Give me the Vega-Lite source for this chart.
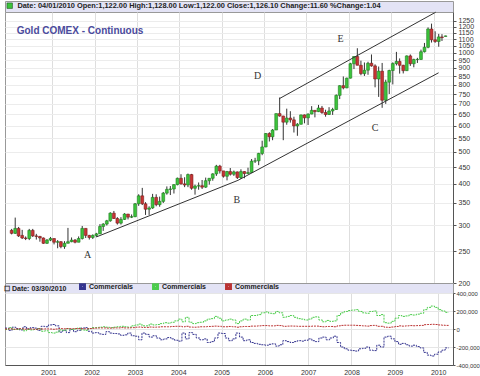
{
"$schema": "https://vega.github.io/schema/vega-lite/v6.json",
"padding": {"left": 2, "top": 0, "right": 0, "bottom": 0},
"background": "white",
"spacing": 0,
"bounds": "flush",
"config": {"font": "Liberation Sans", "view": {"stroke": "#999"}},
"resolve": {"scale": {"color": "independent", "y": "independent"}, "legend": {"color": "independent"}},
"datasets": {
"candles": [
{"d":"2000-01-15","o":289,"h":292,"l":281,"c":283},{"d":"2000-02-15","o":283,"h":316,"l":282,"c":293},{"d":"2000-03-15","o":293,"h":296,"l":276,"c":278},{"d":"2000-04-15","o":279,"h":290,"l":272,"c":274},{"d":"2000-05-15","o":274,"h":277,"l":270,"c":273},{"d":"2000-06-15","o":273,"h":292,"l":270,"c":289},{"d":"2000-07-15","o":289,"h":292,"l":276,"c":278},{"d":"2000-08-15","o":278,"h":282,"l":271,"c":277},{"d":"2000-09-15","o":277,"h":278,"l":267,"c":274},{"d":"2000-10-15","o":274,"h":275,"l":263,"c":264},{"d":"2000-11-15","o":264,"h":272,"l":263,"c":270},{"d":"2000-12-15","o":270,"h":276,"l":268,"c":273},
{"d":"2001-01-15","o":273,"h":273,"l":262,"c":266},{"d":"2001-02-15","o":266,"h":270,"l":255,"c":267},{"d":"2001-03-15","o":267,"h":268,"l":255,"c":258},{"d":"2001-04-15","o":258,"h":268,"l":254,"c":264},{"d":"2001-05-15","o":264,"h":294,"l":264,"c":267},{"d":"2001-06-15","o":267,"h":275,"l":266,"c":270},{"d":"2001-07-15","o":270,"h":272,"l":264,"c":266},{"d":"2001-08-15","o":266,"h":277,"l":266,"c":273},{"d":"2001-09-15","o":273,"h":298,"l":271,"c":293},{"d":"2001-10-15","o":293,"h":293,"l":274,"c":279},{"d":"2001-11-15","o":279,"h":280,"l":271,"c":275},{"d":"2001-12-15","o":275,"h":281,"l":272,"c":279},
{"d":"2002-01-15","o":279,"h":284,"l":276,"c":282},{"d":"2002-02-15","o":282,"h":302,"l":282,"c":297},{"d":"2002-03-15","o":297,"h":304,"l":288,"c":302},{"d":"2002-04-15","o":302,"h":311,"l":299,"c":309},{"d":"2002-05-15","o":309,"h":328,"l":307,"c":326},{"d":"2002-06-15","o":326,"h":331,"l":313,"c":314},{"d":"2002-07-15","o":314,"h":317,"l":301,"c":304},{"d":"2002-08-15","o":304,"h":317,"l":301,"c":312},{"d":"2002-09-15","o":312,"h":326,"l":311,"c":324},{"d":"2002-10-15","o":324,"h":324,"l":312,"c":317},{"d":"2002-11-15","o":317,"h":323,"l":315,"c":318},{"d":"2002-12-15","o":318,"h":350,"l":317,"c":348},
{"d":"2003-01-15","o":348,"h":372,"l":343,"c":368},{"d":"2003-02-15","o":368,"h":389,"l":345,"c":348},{"d":"2003-03-15","o":348,"h":352,"l":322,"c":335},{"d":"2003-04-15","o":335,"h":342,"l":322,"c":338},{"d":"2003-05-15","o":338,"h":373,"l":336,"c":364},{"d":"2003-06-15","o":364,"h":372,"l":342,"c":346},{"d":"2003-07-15","o":346,"h":366,"l":341,"c":354},{"d":"2003-08-15","o":354,"h":378,"l":350,"c":375},{"d":"2003-09-15","o":375,"h":393,"l":371,"c":385},{"d":"2003-10-15","o":385,"h":394,"l":370,"c":386},{"d":"2003-11-15","o":386,"h":399,"l":374,"c":398},{"d":"2003-12-15","o":398,"h":418,"l":396,"c":416},
{"d":"2004-01-15","o":416,"h":428,"l":398,"c":400},{"d":"2004-02-15","o":400,"h":419,"l":391,"c":397},{"d":"2004-03-15","o":397,"h":430,"l":391,"c":427},{"d":"2004-04-15","o":427,"h":429,"l":384,"c":388},{"d":"2004-05-15","o":388,"h":398,"l":371,"c":394},{"d":"2004-06-15","o":394,"h":404,"l":384,"c":395},{"d":"2004-07-15","o":395,"h":411,"l":386,"c":391},{"d":"2004-08-15","o":391,"h":418,"l":389,"c":409},{"d":"2004-09-15","o":409,"h":416,"l":398,"c":416},{"d":"2004-10-15","o":416,"h":431,"l":409,"c":429},{"d":"2004-11-15","o":429,"h":457,"l":423,"c":453},{"d":"2004-12-15","o":453,"h":457,"l":430,"c":438},
{"d":"2005-01-15","o":438,"h":438,"l":418,"c":422},{"d":"2005-02-15","o":422,"h":438,"l":410,"c":436},{"d":"2005-03-15","o":436,"h":447,"l":424,"c":428},{"d":"2005-04-15","o":428,"h":439,"l":423,"c":435},{"d":"2005-05-15","o":435,"h":436,"l":414,"c":418},{"d":"2005-06-15","o":418,"h":443,"l":414,"c":436},{"d":"2005-07-15","o":436,"h":437,"l":416,"c":430},{"d":"2005-08-15","o":430,"h":448,"l":429,"c":433},{"d":"2005-09-15","o":433,"h":476,"l":432,"c":469},{"d":"2005-10-15","o":469,"h":480,"l":463,"c":470},{"d":"2005-11-15","o":470,"h":497,"l":456,"c":495},{"d":"2005-12-15","o":495,"h":541,"l":489,"c":518},
{"d":"2006-01-15","o":518,"h":571,"l":517,"c":569},{"d":"2006-02-15","o":569,"h":574,"l":538,"c":556},{"d":"2006-03-15","o":556,"h":587,"l":543,"c":583},{"d":"2006-04-15","o":583,"h":654,"l":583,"c":654},{"d":"2006-05-15","o":654,"h":732,"l":640,"c":643},{"d":"2006-06-15","o":643,"h":644,"l":543,"c":616},{"d":"2006-07-15","o":616,"h":677,"l":605,"c":634},{"d":"2006-08-15","o":634,"h":665,"l":614,"c":626},{"d":"2006-09-15","o":626,"h":640,"l":573,"c":600},{"d":"2006-10-15","o":600,"h":612,"l":560,"c":607},{"d":"2006-11-15","o":607,"h":649,"l":606,"c":648},{"d":"2006-12-15","o":648,"h":650,"l":611,"c":635},
{"d":"2007-01-15","o":635,"h":655,"l":604,"c":652},{"d":"2007-02-15","o":652,"h":689,"l":651,"c":669},{"d":"2007-03-15","o":669,"h":670,"l":637,"c":663},{"d":"2007-04-15","o":663,"h":695,"l":661,"c":680},{"d":"2007-05-15","o":680,"h":690,"l":653,"c":659},{"d":"2007-06-15","o":659,"h":672,"l":640,"c":650},{"d":"2007-07-15","o":650,"h":684,"l":648,"c":666},{"d":"2007-08-15","o":666,"h":681,"l":648,"c":673},{"d":"2007-09-15","o":673,"h":748,"l":672,"c":743},{"d":"2007-10-15","o":743,"h":797,"l":724,"c":795},{"d":"2007-11-15","o":795,"h":848,"l":775,"c":783},{"d":"2007-12-15","o":783,"h":841,"l":781,"c":838},
{"d":"2008-01-15","o":838,"h":933,"l":836,"c":927},{"d":"2008-02-15","o":927,"h":975,"l":893,"c":975},{"d":"2008-03-15","o":975,"h":1033,"l":917,"c":917},{"d":"2008-04-15","o":917,"h":947,"l":855,"c":865},{"d":"2008-05-15","o":865,"h":935,"l":851,"c":886},{"d":"2008-06-15","o":886,"h":940,"l":858,"c":930},{"d":"2008-07-15","o":930,"h":989,"l":908,"c":913},{"d":"2008-08-15","o":913,"h":923,"l":786,"c":833},{"d":"2008-09-15","o":833,"h":909,"l":735,"c":880},{"d":"2008-10-15","o":880,"h":932,"l":681,"c":718},{"d":"2008-11-15","o":718,"h":829,"l":700,"c":815},{"d":"2008-12-15","o":815,"h":889,"l":750,"c":884},
{"d":"2009-01-15","o":884,"h":936,"l":802,"c":928},{"d":"2009-02-15","o":928,"h":1007,"l":916,"c":942},{"d":"2009-03-15","o":942,"h":962,"l":865,"c":917},{"d":"2009-04-15","o":917,"h":920,"l":866,"c":883},{"d":"2009-05-15","o":883,"h":982,"l":882,"c":979},{"d":"2009-06-15","o":979,"h":989,"l":913,"c":927},{"d":"2009-07-15","o":927,"h":960,"l":904,"c":955},{"d":"2009-08-15","o":955,"h":966,"l":932,"c":955},{"d":"2009-09-15","o":955,"h":1023,"l":953,"c":1008},{"d":"2009-10-15","o":1008,"h":1072,"l":1003,"c":1040},{"d":"2009-11-15","o":1040,"h":1195,"l":1033,"c":1182},{"d":"2009-12-15","o":1182,"h":1227,"l":1075,"c":1096},
{"d":"2010-01-15","o":1096,"h":1163,"l":1073,"c":1083},{"d":"2010-02-15","o":1083,"h":1142,"l":1044,"c":1118},{"d":"2010-03-15","o":1118,"h":1140,"l":1087,"c":1113},{"d":"2010-04-15","o":1122,"h":1128,"l":1122,"c":1126}
],
"trend": [
{"seg":"a","d":"2002-01-15","p":276},{"seg":"a","d":"2005-05-20","p":410},
{"seg":"b","d":"2005-05-20","p":410},{"seg":"b","d":"2010-02-14","p":870},
{"seg":"c","d":"2006-05-12","p":726},{"seg":"c","d":"2010-01-20","p":1329}
],
"marks": [
{"d":"2001-11-01","p":243,"t":"A"},{"d":"2005-05-10","p":357,"t":"B"},{"d":"2008-08-15","p":593,"t":"C"},{"d":"2005-11-05","p":852,"t":"D"},{"d":"2007-10-23","p":1102,"t":"E"}
],
"title": [{"d":"2000-02-28","p":1166,"t":"Gold COMEX - Continuous"}],
"cot": [
{"d":"2000-01-01","b":10000,"g":-5000,"r":0},{"d":"2000-02-01","b":-15000,"g":15000,"r":2000},{"d":"2000-03-01","b":20000,"g":-5000,"r":-2000},{"d":"2000-04-01","b":5000,"g":-5000,"r":0},{"d":"2000-05-01","b":-10000,"g":0,"r":3000},{"d":"2000-06-01","b":25000,"g":-20000,"r":-2000},{"d":"2000-07-01","b":0,"g":-5000,"r":1000},{"d":"2000-08-01","b":15000,"g":-10000,"r":0},{"d":"2000-09-01","b":10000,"g":-5000,"r":-3000},{"d":"2000-10-01","b":-15000,"g":5000,"r":2000},{"d":"2000-11-01","b":30000,"g":-25000,"r":0},{"d":"2000-12-01","b":25000,"g":-20000,"r":1000},
{"d":"2001-01-01","b":45000,"g":-40000,"r":0},{"d":"2001-02-01","b":50000,"g":-45000,"r":-3000},{"d":"2001-03-01","b":35000,"g":-35000,"r":0},{"d":"2001-04-01","b":-35000,"g":-10000,"r":5000},{"d":"2001-05-01","b":-15000,"g":-15000,"r":2000},{"d":"2001-06-01","b":-40000,"g":5000,"r":5000},{"d":"2001-07-01","b":-5000,"g":-5000,"r":3000},{"d":"2001-08-01","b":-30000,"g":0,"r":5000},{"d":"2001-09-01","b":-15000,"g":10000,"r":5000},{"d":"2001-10-01","b":10000,"g":-10000,"r":3000},{"d":"2001-11-01","b":15000,"g":-15000,"r":2000},{"d":"2001-12-01","b":-25000,"g":5000,"r":5000},
{"d":"2002-01-01","b":-45000,"g":15000,"r":8000},{"d":"2002-02-01","b":-40000,"g":15000,"r":10000},{"d":"2002-03-01","b":-55000,"g":20000,"r":12000},{"d":"2002-04-01","b":-60000,"g":25000,"r":12000},{"d":"2002-05-01","b":-30000,"g":20000,"r":10000},{"d":"2002-06-01","b":-45000,"g":15000,"r":10000},{"d":"2002-07-01","b":-50000,"g":20000,"r":12000},{"d":"2002-08-01","b":-55000,"g":25000,"r":12000},{"d":"2002-09-01","b":-70000,"g":30000,"r":15000},{"d":"2002-10-01","b":-65000,"g":25000,"r":12000},{"d":"2002-11-01","b":-45000,"g":20000,"r":12000},{"d":"2002-12-01","b":-75000,"g":35000,"r":15000},
{"d":"2003-01-01","b":-80000,"g":45000,"r":20000},{"d":"2003-02-01","b":-120000,"g":55000,"r":22000},{"d":"2003-03-01","b":-45000,"g":35000,"r":18000},{"d":"2003-04-01","b":-60000,"g":35000,"r":18000},{"d":"2003-05-01","b":-90000,"g":55000,"r":22000},{"d":"2003-06-01","b":-75000,"g":45000,"r":20000},{"d":"2003-07-01","b":-100000,"g":50000,"r":22000},{"d":"2003-08-01","b":-120000,"g":60000,"r":25000},{"d":"2003-09-01","b":-110000,"g":70000,"r":25000},{"d":"2003-10-01","b":-95000,"g":65000,"r":25000},{"d":"2003-11-01","b":-110000,"g":75000,"r":28000},{"d":"2003-12-01","b":-125000,"g":90000,"r":30000},
{"d":"2004-01-01","b":-135000,"g":110000,"r":30000},{"d":"2004-02-01","b":-45000,"g":80000,"r":25000},{"d":"2004-03-01","b":-110000,"g":130000,"r":30000},{"d":"2004-04-01","b":-40000,"g":75000,"r":22000},{"d":"2004-05-01","b":-60000,"g":60000,"r":20000},{"d":"2004-06-01","b":-100000,"g":70000,"r":22000},{"d":"2004-07-01","b":-120000,"g":75000,"r":25000},{"d":"2004-08-01","b":-110000,"g":90000,"r":25000},{"d":"2004-09-01","b":-150000,"g":110000,"r":28000},{"d":"2004-10-01","b":-140000,"g":115000,"r":30000},{"d":"2004-11-01","b":-100000,"g":140000,"r":32000},{"d":"2004-12-01","b":-45000,"g":120000,"r":30000},
{"d":"2005-01-01","b":-50000,"g":90000,"r":25000},{"d":"2005-02-01","b":-100000,"g":100000,"r":25000},{"d":"2005-03-01","b":-130000,"g":110000,"r":28000},{"d":"2005-04-01","b":-110000,"g":100000,"r":25000},{"d":"2005-05-01","b":-45000,"g":60000,"r":20000},{"d":"2005-06-01","b":-90000,"g":90000,"r":25000},{"d":"2005-07-01","b":-130000,"g":110000,"r":28000},{"d":"2005-08-01","b":-120000,"g":100000,"r":28000},{"d":"2005-09-01","b":-150000,"g":150000,"r":32000},{"d":"2005-10-01","b":-160000,"g":150000,"r":32000},{"d":"2005-11-01","b":-170000,"g":160000,"r":35000},{"d":"2005-12-01","b":-175000,"g":180000,"r":38000},
{"d":"2006-01-01","b":-180000,"g":190000,"r":38000},{"d":"2006-02-01","b":-170000,"g":175000,"r":35000},{"d":"2006-03-01","b":-165000,"g":170000,"r":35000},{"d":"2006-04-01","b":-190000,"g":195000,"r":40000},{"d":"2006-05-01","b":-175000,"g":180000,"r":38000},{"d":"2006-06-01","b":-130000,"g":130000,"r":30000},{"d":"2006-07-01","b":-140000,"g":140000,"r":32000},{"d":"2006-08-01","b":-150000,"g":150000,"r":33000},{"d":"2006-09-01","b":-140000,"g":130000,"r":32000},{"d":"2006-10-01","b":-130000,"g":115000,"r":30000},{"d":"2006-11-01","b":-135000,"g":110000,"r":30000},{"d":"2006-12-01","b":-125000,"g":100000,"r":30000},
{"d":"2007-01-01","b":-110000,"g":110000,"r":30000},{"d":"2007-02-01","b":-130000,"g":130000,"r":32000},{"d":"2007-03-01","b":-140000,"g":135000,"r":32000},{"d":"2007-04-01","b":-100000,"g":100000,"r":28000},{"d":"2007-05-01","b":-90000,"g":80000,"r":25000},{"d":"2007-06-01","b":-120000,"g":95000,"r":28000},{"d":"2007-07-01","b":-100000,"g":85000,"r":28000},{"d":"2007-08-01","b":-80000,"g":90000,"r":25000},{"d":"2007-09-01","b":-150000,"g":150000,"r":35000},{"d":"2007-10-01","b":-200000,"g":180000,"r":40000},{"d":"2007-11-01","b":-220000,"g":195000,"r":42000},{"d":"2007-12-01","b":-235000,"g":205000,"r":42000},
{"d":"2008-01-01","b":-240000,"g":210000,"r":42000},{"d":"2008-02-01","b":-245000,"g":215000,"r":40000},{"d":"2008-03-01","b":-220000,"g":195000,"r":38000},{"d":"2008-04-01","b":-215000,"g":180000,"r":35000},{"d":"2008-05-01","b":-200000,"g":175000,"r":32000},{"d":"2008-06-01","b":-235000,"g":195000,"r":38000},{"d":"2008-07-01","b":-240000,"g":200000,"r":40000},{"d":"2008-08-01","b":-180000,"g":150000,"r":30000},{"d":"2008-09-01","b":-200000,"g":160000,"r":30000},{"d":"2008-10-01","b":-90000,"g":70000,"r":20000},{"d":"2008-11-01","b":-80000,"g":65000,"r":18000},{"d":"2008-12-01","b":-110000,"g":85000,"r":22000},
{"d":"2009-01-01","b":-140000,"g":120000,"r":28000},{"d":"2009-02-01","b":-170000,"g":150000,"r":35000},{"d":"2009-03-01","b":-160000,"g":140000,"r":32000},{"d":"2009-04-01","b":-175000,"g":145000,"r":35000},{"d":"2009-05-01","b":-190000,"g":160000,"r":38000},{"d":"2009-06-01","b":-180000,"g":155000,"r":36000},{"d":"2009-07-01","b":-195000,"g":165000,"r":38000},{"d":"2009-08-01","b":-210000,"g":175000,"r":40000},{"d":"2009-09-01","b":-260000,"g":215000,"r":48000},{"d":"2009-10-01","b":-290000,"g":240000,"r":50000},{"d":"2009-11-01","b":-300000,"g":255000,"r":52000},{"d":"2009-12-01","b":-280000,"g":240000,"r":50000},
{"d":"2010-01-01","b":-255000,"g":215000,"r":45000},{"d":"2010-02-01","b":-235000,"g":200000,"r":42000},{"d":"2010-03-01","b":-210000,"g":185000,"r":40000},{"d":"2010-03-30","b":-210000,"g":185000,"r":40000}
]
},
"vconcat": [
{
"width": 448, "height": 11,
"data": {"values": []},
"mark": "text",
"encoding": {"text": {"field": "t", "type": "nominal"}},
"view": {"fill": "#e3e3f5", "stroke": "#999"}
},
{
"width": 448, "height": 271,
"view": {"fill": "white", "stroke": "#999"},
"layer": [
{
"data": {"name": "candles"},
"mark": {"type": "rule", "color": "#333", "strokeWidth": 1},
"encoding": {
"x": {"field": "d", "type": "temporal", "title": null,
"scale": {"type": "utc", "nice": false, "domain": [{"year": 2000, "month": 1, "date": 1, "utc": true}, {"year": 2010, "month": 5, "date": 6, "utc": true}]},
"axis": {"values": [{"year":2001,"utc":true},{"year":2002,"utc":true},{"year":2003,"utc":true},{"year":2004,"utc":true},{"year":2005,"utc":true},{"year":2006,"utc":true},{"year":2007,"utc":true},{"year":2008,"utc":true},{"year":2009,"utc":true},{"year":2010,"utc":true}],
"labels": false, "ticks": false, "domain": false, "gridColor": "#dedede"}},
"y": {"field": "l", "type": "quantitative", "title": null,
"scale": {"type": "log", "nice": false, "domain": [200, 1331]},
"axis": {"orient": "right", "values": [200,250,300,350,400,450,500,550,600,650,700,750,800,850,900,950,1000,1050,1100,1150,1200,1250],
"format": "d", "labelFontSize": 7, "labelColor": "#333", "labelPadding": 2, "tickSize": 3, "tickColor": "#555", "domainColor": "#555", "gridColor": "#ececec", "labelOverlap": false}},
"y2": {"field": "h"}
}
},
{
"data": {"name": "candles"},
"transform": [{"calculate": "datum.c >= datum.o ? 'up' : 'down'", "as": "dir"}],
"mark": {"type": "bar", "size": 2.8, "strokeWidth": 0.6},
"encoding": {
"x": {"field": "d", "type": "temporal", "title": null},
"y": {"field": "o", "type": "quantitative", "title": null},
"y2": {"field": "c"},
"color": {"field": "dir", "type": "nominal",
"scale": {"domain": ["up", "down"], "range": ["#3cc43c", "#c83434"]},
"legend": {"orient": "none", "legendX": 1, "legendY": -10, "values": ["up"], "title": null,
"labelExpr": "'Date: 04/01/2010  Open:1,122.00  High:1,128.00  Low:1,122.00  Close:1,126.10  Change:11.60  %Change:1.04'",
"labelFontSize": 7.4, "labelFontWeight": "bold", "labelColor": "#222", "labelLimit": 470, "labelOffset": 4,
"symbolType": "square", "symbolSize": 30, "symbolStrokeColor": "#225522", "symbolStrokeWidth": 0.6, "padding": 0}},
"stroke": {"field": "dir", "type": "nominal", "scale": {"domain": ["up", "down"], "range": ["#1f7a1f", "#7a1f1f"]}, "legend": null}
}
},
{
"data": {"name": "trend"},
"mark": {"type": "line", "color": "#333", "strokeWidth": 1},
"encoding": {
"x": {"field": "d", "type": "temporal", "title": null},
"y": {"field": "p", "type": "quantitative", "title": null},
"detail": {"field": "seg", "type": "nominal"}
}
},
{
"data": {"name": "marks"},
"mark": {"type": "text", "font": "Liberation Serif", "fontSize": 10, "color": "#333"},
"encoding": {
"x": {"field": "d", "type": "temporal", "title": null},
"y": {"field": "p", "type": "quantitative", "title": null},
"text": {"field": "t"}
}
},
{
"data": {"name": "title"},
"mark": {"type": "text", "align": "left", "fontSize": 10, "fontWeight": "bold", "color": "#4a4a9c"},
"encoding": {
"x": {"field": "d", "type": "temporal", "title": null},
"y": {"field": "p", "type": "quantitative", "title": null},
"text": {"field": "t"}
}
}
]
},
{
"width": 448, "height": 10,
"data": {"values": []},
"mark": "text",
"encoding": {"text": {"field": "t", "type": "nominal"}},
"view": {"fill": "#e3e3f5", "stroke": "#999"}
},
{
"width": 448, "height": 72,
"view": {"fill": "white", "stroke": "#999"},
"data": {"name": "cot"},
"transform": [{"fold": ["b", "g", "r"], "as": ["s", "v"]}],
"mark": {"type": "line", "interpolate": "step-after", "strokeWidth": 1, "strokeDash": [2, 1]},
"encoding": {
"x": {"field": "d", "type": "temporal", "title": null,
"scale": {"type": "utc", "nice": false, "domain": [{"year": 2000, "month": 1, "date": 1, "utc": true}, {"year": 2010, "month": 5, "date": 6, "utc": true}]},
"axis": {"values": [{"year":2001,"utc":true},{"year":2002,"utc":true},{"year":2003,"utc":true},{"year":2004,"utc":true},{"year":2005,"utc":true},{"year":2006,"utc":true},{"year":2007,"utc":true},{"year":2008,"utc":true},{"year":2009,"utc":true},{"year":2010,"utc":true}],
"format": "%Y", "ticks": false, "labelFontSize": 7, "labelColor": "#333", "labelPadding": 3, "domainColor": "#555", "gridColor": "#dedede"}},
"y": {"field": "v", "type": "quantitative", "title": null,
"scale": {"domain": [-400000, 400000], "nice": false},
"axis": {"orient": "right", "values": [-400000, -200000, 0, 200000, 400000],
"labelExpr": "datum.value < 0 ? '-' + format(-datum.value, ',') : format(datum.value, ',')",
"labelFontSize": 5.9, "labelColor": "#333", "labelPadding": 1, "tickSize": 2, "tickColor": "#555", "domainColor": "#555", "gridColor": "#e6e6e6", "labelLimit": 40}},
"color": {"field": "s", "type": "nominal",
"scale": {"domain": ["b", "g", "r"], "range": ["#34348f", "#4ccc4c", "#bb3333"]},
"legend": {"orient": "none", "legendX": -1, "legendY": -10, "direction": "horizontal", "title": "☐ Date: 03/30/2010", "titleOrient": "left", "titleFontSize": 7, "titleFontWeight": "bold", "titleColor": "#222", "titlePadding": 12, "titleBaseline": "middle",
"labelExpr": "'Commercials'", "labelFontSize": 7, "labelFontWeight": "bold", "labelColor": "#222", "labelOffset": 3, "columnPadding": 14,
"symbolType": "square", "symbolSize": 14, "symbolStrokeWidth": 3.2, "symbolDash": [], "symbolOpacity": 1, "padding": 0}}
}
}
]
}
